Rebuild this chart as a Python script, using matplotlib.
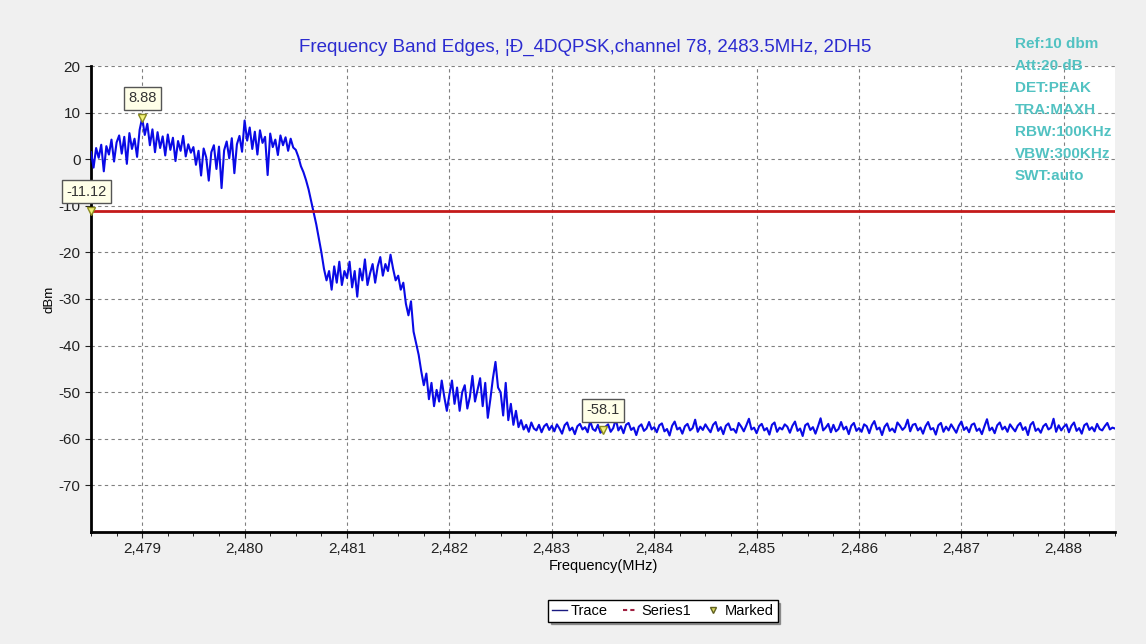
import numpy as np
import matplotlib.pyplot as plt
from matplotlib.lines import Line2D
from matplotlib.ticker import FuncFormatter, MultipleLocator

plt.rcParams['font.family'] = ['Liberation Sans', 'DejaVu Sans']
plt.rcParams['axes.unicode_minus'] = False

# sweep: 2478.5 .. 2488.5 MHz, 0.025 MHz per point
f_start, f_stop = 2478.5, 2488.5
trace_dbm = [
    # 2478.500
    1.5, -1.8, 2.4, 0.3, 3.1, -2.6, 2.8, 1.0, 4.2, -0.5, 3.6, 5.1, 1.2, 4.8, -1.0, 5.6, 2.2, 4.4, 0.5, 6.3,
    # 2479.000
    8.9, 5.2, 7.6, 3.0, 6.4, 1.5, 5.8, 2.4, 4.9, 0.8, 5.3, 2.0, 4.6, -0.4, 3.9, 1.8, 5.0, 0.6, 3.2, 1.4,
    # 2479.500
    2.6, -1.2, 1.8, -3.5, 2.3, 0.4, -4.6, 1.5, 3.0, -2.1, 2.7, -6.2, 1.9, 3.8, 0.2, 4.5, -3.0, 3.2, 5.0, 1.6,
    # 2480.000
    8.3, 4.0, 6.8, 2.2, 5.9, 1.0, 6.2, 3.5, 4.8, -3.4, 5.5, 2.6, 4.2, 0.9, 5.1, 3.0, 4.7, 1.8, 4.4, 2.5,
    # 2480.500
    2.0, 0.5, -1.5, -2.8, -4.5, -6.5, -9.0, -11.5, -14.0, -17.0, -20.0, -23.5, -26.0, -24.0, -28.0, -23.0, -26.5, -22.0, -27.0, -24.0,
    # 2481.000
    -25.5, -22.0, -27.5, -24.0, -29.5, -23.5, -26.0, -21.5, -27.0, -24.5, -22.5, -26.5, -23.0, -21.0, -25.0, -22.5, -24.0, -20.5, -23.5, -26.0,
    # 2481.500
    -25.0, -28.0, -26.5, -31.0, -33.5, -30.5, -37.0, -39.5, -42.0, -45.5, -48.5, -46.0, -51.5, -48.0, -53.0, -49.5, -52.0, -47.5, -51.0, -54.0,
    # 2482.000
    -50.5, -47.5, -52.5, -49.0, -54.0, -50.0, -48.5, -53.5, -51.0, -46.5, -52.0, -49.5, -47.0, -53.0, -48.0, -55.5, -51.5, -47.0, -43.5, -49.0,
    # 2482.500
    -50.0, -55.0, -48.0, -56.0, -52.5, -57.0, -54.0, -57.5, -56.0, -58.0, -57.0, -58.5, -56.5, -57.8, -58.2, -57.0, -58.6, -57.3, -56.8, -58.1,
    # 2483.000
    -57.2, -58.4, -56.9, -57.8, -58.9, -57.1, -56.5, -58.2, -57.6, -59.0, -57.3, -56.8, -58.0, -57.5, -58.6, -56.2, -57.9, -58.3, -57.0, -58.7,
    # 2483.500
    -58.1, -57.4, -56.9, -58.5, -57.7, -55.8, -58.2, -57.3, -58.8, -57.0, -56.6, -58.1, -57.6, -59.2, -57.4, -56.9, -58.3, -57.8, -56.4, -58.0,
    # 2484.000
    -57.5, -58.6, -57.1, -56.7, -58.4, -57.9, -59.3, -57.2, -56.3, -58.0, -57.6, -58.9, -57.3, -56.8, -58.2, -57.7, -55.9, -58.5, -57.4, -58.1,
    # 2484.500
    -56.9, -57.8, -58.6, -57.0, -56.4, -58.3, -57.5, -59.0, -57.2, -56.7, -58.1, -57.9, -58.7, -56.6, -57.4, -58.4, -57.1, -55.7, -58.0, -57.6,
    # 2485.000
    -58.8, -57.3, -56.8, -58.2, -57.7, -59.1, -57.0, -56.5, -58.5, -57.6, -58.0, -56.9, -57.4, -58.7, -57.2, -56.3, -58.3, -57.8, -59.4, -57.1,
    # 2485.500
    -56.7, -58.1, -57.5, -58.9, -57.3, -55.6, -58.2, -57.6, -56.8, -58.6, -57.0, -58.4, -57.9, -56.4, -58.0, -57.4, -59.0, -57.2, -56.6, -58.3,
    # 2486.000
    -57.7, -58.5, -56.9, -57.3, -58.8, -57.1, -56.2, -58.0, -57.6, -59.2, -57.4, -56.7, -58.3, -57.8, -58.6, -56.5, -57.2, -58.1, -57.5, -55.9,
    # 2486.500
    -58.4, -57.0, -56.8, -58.2, -57.6, -58.9, -57.3, -56.4, -58.0, -57.7, -59.1, -57.1, -56.6, -58.5, -57.4, -58.2, -56.9, -57.8, -58.7, -57.2,
    # 2487.000
    -56.3, -58.1, -57.5, -58.6, -57.0, -56.7, -58.3, -57.8, -59.0, -57.3, -55.8, -58.2, -57.6, -58.8, -57.1, -56.5, -58.0, -57.4, -58.5, -56.9,
    # 2487.500
    -57.7, -58.4, -57.2, -56.6, -58.1, -57.5, -59.2, -57.0, -56.4, -58.3, -57.8, -58.7, -57.3, -56.8, -58.0, -57.6, -55.7, -58.5, -57.1, -58.2,
    # 2488.000
    -57.4, -56.9, -58.6, -57.2, -56.5, -58.3, -57.7, -58.9, -57.1, -56.7, -58.1, -57.5, -58.4, -56.8, -57.9, -58.2, -57.3, -56.6, -58.0, -57.6,
    -57.8,
]
freq = np.linspace(f_start, f_stop, len(trace_dbm))

limit_dbm = -11.12
mark_freq = [2479.0, 2478.5, 2483.5]
mark_dbm = [8.88, -11.12, -58.1]
mark_text = ["8.88", "-11.12", "-58.1"]

info = ["Ref:10 dbm", "Att:20 dB", "DET:PEAK", "TRA:MAXH",
        "RBW:100KHz", "VBW:300KHz", "SWT:auto"]

fig = plt.figure(figsize=(11.46, 6.44), dpi=100, facecolor="#f0f0f0")
ax = fig.add_axes([91/1146, 1-532/644, (1115-91)/1146, (532-66)/644])
ax.set_facecolor("white")

ax.plot(freq, trace_dbm, color="#0a0ae6", lw=1.5, zorder=3)
ax.axhline(limit_dbm, color="#c41a1a", lw=2, zorder=4)

ax.set_xlim(f_start, f_stop)
ax.set_ylim(-80, 20)
ax.set_yticks(np.arange(-70, 21, 10))
ax.xaxis.set_major_locator(MultipleLocator(1))
ax.xaxis.set_minor_locator(MultipleLocator(0.25))
ax.xaxis.set_major_formatter(FuncFormatter(lambda v, p: f"{v:,.0f}"))
ax.grid(True, which="major", color="#808080", ls=(0, (3, 3)), lw=0.8)
ax.tick_params(labelsize=11, colors="#222222", length=4)
ax.tick_params(which="minor", length=3)

for s in ["top", "right"]:
    ax.spines[s].set_visible(False)
for s in ["left", "bottom"]:
    ax.spines[s].set_linewidth(2)

ax.set_xlabel("Frequency(MHz)", fontsize=10.5, labelpad=2)
ax.set_ylabel("dBm", fontsize=9.5, labelpad=2)

# markers
ax.plot(mark_freq, mark_dbm, "v", color="#f2f27a", mec="#8a8a20", ms=6, zorder=5, clip_on=False)
offsets = [(0, 9), (-3, 9), (0, 9)]
for fx, fy, t, off in zip(mark_freq, mark_dbm, mark_text, offsets):
    ax.annotate(t, (fx, fy), xytext=off, textcoords="offset points",
                ha="center", va="bottom", fontsize=10.5, color="#333333",
                bbox=dict(boxstyle="square,pad=0.3", fc="#ffffe8", ec="#555555", lw=1),
                zorder=6, annotation_clip=False)

fig.text(585/1146, 1-47/644, "Frequency Band Edges, ¦Ð_4DQPSK,channel 78, 2483.5MHz, 2DH5",
         ha="center", va="center", fontsize=13.5, color="#2b2bd0")

for i, line in enumerate(info):
    fig.text(1015/1146, 1-(44+22*i)/644, line, ha="left", va="center",
             fontsize=11, fontweight="bold", color="#52c2c2")

handles = [Line2D([], [], color="#1a1a80", lw=1),
           Line2D([], [], color="#a02040", lw=1.5, ls=(0, (2, 1.5))),
           Line2D([], [], color="#d8d860", mec="#606020", marker="v", ls="none", ms=5)]
leg = fig.legend(handles, ["Trace", "Series1", "Marked"], ncol=3,
                 loc="center", bbox_to_anchor=(663/1146, 1-611/644),
                 fontsize=10.5, frameon=True, fancybox=False, shadow=True,
                 handlelength=1.0, handletextpad=0.3, columnspacing=1.0,
                 borderpad=0.25)
leg.get_frame().set_edgecolor("black")
leg.get_frame().set_linewidth(1)

fig.savefig("out.png", dpi=100, facecolor=fig.get_facecolor())
